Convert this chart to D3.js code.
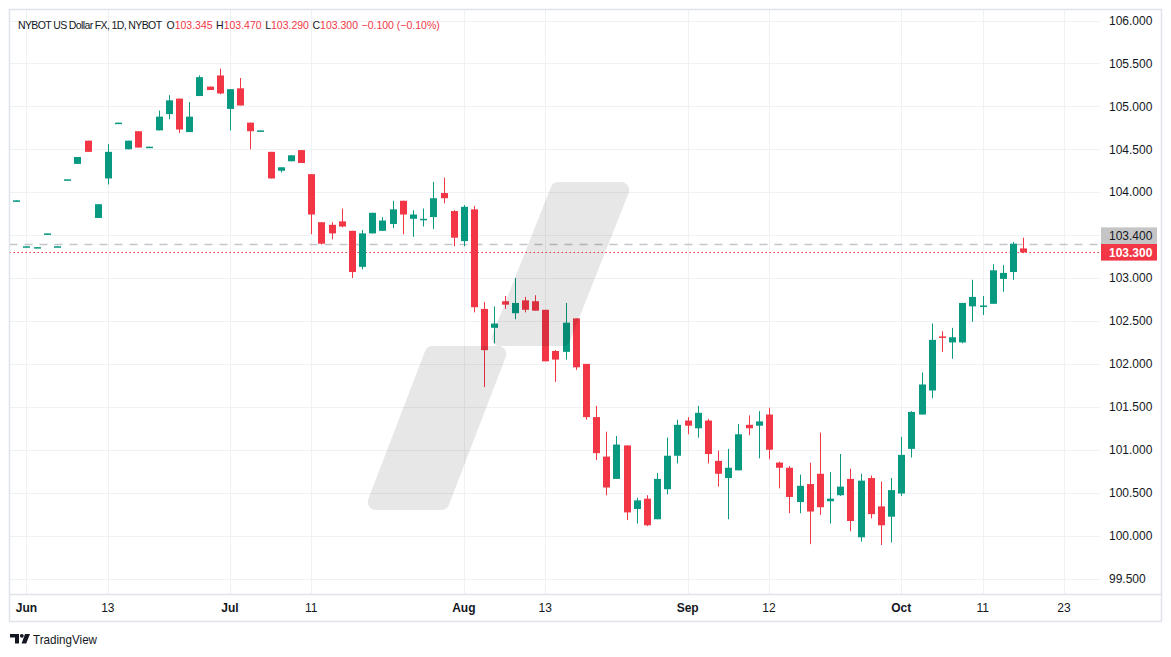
<!DOCTYPE html>
<html>
<head>
<meta charset="utf-8">
<script src="https://cdn.jsdelivr.net/npm/d3@7"></script>
<style>
  body { margin: 0; background: #fff; }
  svg { display: block; }
  text { font-family: "Liberation Sans", Arial, sans-serif; }
</style>
</head>
<body>
<svg width="1171" height="657"></svg>
<script>
// daily bars, May 31 .. Oct 17 (every weekday)
const opens = [103.895,103.365,103.355,103.515,103.365,104.145,104.33,104.60,103.70,104.16,
  104.805,104.50,104.71,104.525,104.72,104.91,105.09,104.70,105.12,105.23,
  105.36,104.97,105.21,104.81,104.715,104.47,104.25,104.36,104.49,104.21,
  103.65,103.62,103.66,103.55,103.13,103.52,103.55,103.63,103.90,103.69,
  103.68,103.71,103.99,103.78,103.43,103.80,102.64,102.42,102.73,102.59,
  102.74,102.73,102.63,102.15,102.14,102.53,102.00,101.38,100.92,100.66,
  101.05,100.31,100.43,100.19,100.54,100.93,101.34,101.25,101.34,100.87,
  100.67,100.76,101.29,101.28,101.41,100.85,100.79,100.39,100.60,100.72,
  100.40,100.47,100.66,99.98,100.67,100.34,100.22,100.49,101.01,101.41,
  101.69,102.32,102.25,102.25,102.67,102.67,102.70,102.99,103.07,103.345];
const highs = [103.905,103.37,103.36,103.52,103.37,104.15,104.41,104.60,103.86,104.56,
  104.81,104.60,104.71,104.53,104.95,105.13,105.09,105.05,105.36,105.23,
  105.44,105.20,105.33,104.81,104.72,104.47,104.29,104.43,104.49,104.21,
  103.65,103.65,103.81,103.55,103.56,103.76,103.71,103.90,103.90,103.79,
  103.81,104.12,104.17,103.79,103.85,103.84,102.72,102.67,102.79,103.00,
  102.78,102.80,102.63,102.16,102.71,102.53,102.00,101.51,101.21,101.16,
  101.05,100.44,100.47,100.73,101.14,101.35,101.38,101.51,101.36,100.99,
  101.01,101.30,101.40,101.45,101.49,100.86,100.81,100.71,100.85,101.20,
  100.74,100.95,100.78,100.72,100.70,100.63,100.67,101.15,101.45,101.90,
  102.47,102.38,102.42,102.71,102.98,102.79,103.16,103.15,103.42,103.47];
const lows = [103.895,103.365,103.355,103.515,103.365,104.145,104.33,104.47,103.70,104.09,
  104.805,104.50,104.52,104.525,104.72,104.85,104.69,104.70,105.12,105.19,
  105.14,104.72,105.01,104.50,104.715,104.16,104.23,104.36,104.34,103.51,
  103.39,103.45,103.59,103.00,103.10,103.52,103.55,103.58,103.51,103.48,
  103.60,103.57,103.87,103.37,103.37,102.60,101.73,102.24,102.64,102.52,
  102.60,102.62,102.03,101.79,102.05,101.93,101.35,100.88,100.47,100.66,
  100.18,100.14,100.11,100.19,100.48,100.84,101.18,101.14,100.84,100.57,
  100.19,100.76,101.17,100.90,100.89,100.55,100.26,100.26,99.90,100.24,
  100.14,100.46,100.05,99.93,100.20,99.89,99.92,100.46,100.91,101.41,
  101.60,102.14,102.06,102.24,102.49,102.57,102.70,102.84,102.98,103.29];
const closes = [103.905,103.37,103.36,103.52,103.37,104.15,104.41,104.47,103.86,104.47,
  104.81,104.60,104.52,104.53,104.88,105.07,104.73,104.88,105.34,105.19,
  105.15,105.20,105.01,104.71,104.72,104.16,104.29,104.43,104.34,103.74,
  103.40,103.52,103.60,103.07,103.52,103.76,103.67,103.80,103.74,103.74,
  103.69,103.93,103.93,103.47,103.83,102.66,102.16,102.47,102.69,102.71,
  102.63,102.62,102.03,102.05,102.48,101.96,101.38,100.96,100.56,101.06,
  100.27,100.41,100.12,100.66,100.93,101.29,101.28,101.43,100.95,100.72,
  100.79,101.18,101.25,101.33,101.00,100.79,100.45,100.58,100.28,100.33,
  100.43,100.57,100.17,100.64,100.25,100.12,100.53,100.94,101.44,101.76,
  102.28,102.31,102.31,102.71,102.78,102.68,103.09,103.06,103.40,103.30];

// time axis: bar index -> label (months are bold)
const timeTicks = [
  {i: 1, label: "Jun", month: true}, {i: 9, label: "13"},
  {i: 21, label: "Jul", month: true}, {i: 29, label: "11"},
  {i: 44, label: "Aug", month: true}, {i: 52, label: "13"},
  {i: 66, label: "Sep", month: true}, {i: 74, label: "12"},
  {i: 87, label: "Oct", month: true}, {i: 95, label: "11"},
  {i: 103, label: "23"}
];
const priceTicks = [99.5,100,100.5,101,101.5,102,102.5,103,103.5,104,104.5,105,105.5,106];
const prevClose = 103.400;
const lastClose = 103.300;

const header = [
  {t: "NYBOT US Dollar FX, 1D, NYBOT", c: "#131722", ls: -0.62},
  {t: "O", c: "#131722", dx: 5}, {t: "103.345", c: "#F23645"},
  {t: "H", c: "#131722", dx: 3.5}, {t: "103.470", c: "#F23645"},
  {t: "L", c: "#131722", dx: 3.5}, {t: "103.290", c: "#F23645"},
  {t: "C", c: "#131722", dx: 3.5}, {t: "103.300", c: "#F23645"},
  {t: "\u22120.100 (\u22120.10%)", c: "#F23645", dx: 3.5}
];

const up = "#089981", down = "#F23645", grid = "#f0f1f4", frame = "#e0e3eb";

var svg = d3.select("svg");

var paneL = 9.5, paneR = 1100, paneT = 9.5, paneB = 594.5, axisB = 621.5, frameR = 1161.5;

var x = d3.scaleLinear().domain([0, 99]).range([16.3, 1023.3]);
var y = d3.scaleLinear().domain([99.5, 106]).range([578.5, 20.5]);

// grid
svg.append("g")
  .selectAll("line")
  .data(priceTicks)
  .enter()
  .append("line")
    .attr("x1", paneL).attr("x2", paneR)
    .attr("y1", d => Math.round(y(d)) + 0.5)
    .attr("y2", d => Math.round(y(d)) + 0.5)
    .attr("stroke", grid);

svg.append("g")
  .selectAll("line")
  .data(timeTicks)
  .enter()
  .append("line")
    .attr("x1", d => Math.round(x(d.i)) + 0.5)
    .attr("x2", d => Math.round(x(d.i)) + 0.5)
    .attr("y1", paneT).attr("y2", paneB)
    .attr("stroke", grid);

// previous close (dashed) and last price (dotted)
svg.append("line")
  .attr("x1", paneL).attr("x2", paneR)
  .attr("y1", Math.round(y(prevClose)) + 0.5).attr("y2", Math.round(y(prevClose)) + 0.5)
  .attr("stroke", "#c3c5cb").attr("stroke-width", 1.5)
  .attr("stroke-dasharray", "8,7");

svg.append("line")
  .attr("x1", paneL).attr("x2", paneR)
  .attr("y1", Math.round(y(lastClose)) + 0.5).attr("y2", Math.round(y(lastClose)) + 0.5)
  .attr("stroke", down).attr("stroke-width", 1.2)
  .attr("stroke-dasharray", "1.5,2.5");

// candles
var bars = d3.range(opens.length).map(i => ({
  i: i, o: opens[i], h: highs[i], l: lows[i], c: closes[i]
}));

var candle = svg.append("g")
  .selectAll("g")
  .data(bars)
  .enter()
  .append("g")
  .attr("fill", d => d.c >= d.o ? up : down)
  .attr("stroke", d => d.c >= d.o ? up : down);

candle.append("line")
  .attr("x1", d => Math.round(x(d.i)) + 0.5)
  .attr("x2", d => Math.round(x(d.i)) + 0.5)
  .attr("y1", d => y(d.h))
  .attr("y2", d => y(d.l))
  .attr("stroke-width", 1);

candle.append("rect")
  .attr("x", d => Math.round(x(d.i)) - 3)
  .attr("width", 7)
  .attr("y", d => y(Math.max(d.o, d.c)))
  .attr("height", d => Math.max(1.5, y(Math.min(d.o, d.c)) - y(Math.max(d.o, d.c))))
  .attr("stroke", "none");

// watermark, drawn over the bars
var wm = svg.append("g").attr("opacity", 0.09);
[
  [[558.4,190],[621.2,190],[562.6,338],[499.8,338]],
  [[432.5,354],[498.3,354],[441.5,502],[375.7,502]]
].forEach(p => {
  wm.append("path")
    .attr("d", d3.line()(p) + "Z")
    .attr("fill", "#000").attr("stroke", "#000")
    .attr("stroke-width", 16).attr("stroke-linejoin", "round");
});

// frame
svg.append("rect")
  .attr("x", paneL).attr("y", paneT)
  .attr("width", frameR - paneL).attr("height", axisB - paneT)
  .attr("fill", "none").attr("stroke", frame).attr("stroke-width", 1.5);
svg.append("line")
  .attr("x1", paneL).attr("x2", frameR)
  .attr("y1", paneB).attr("y2", paneB)
  .attr("stroke", frame).attr("stroke-width", 1.5);

// price axis labels
svg.append("g")
  .selectAll("text")
  .data(priceTicks.filter(v => Math.abs(v - (prevClose + lastClose) / 2) > 0.2))
  .enter()
  .append("text")
    .attr("x", 1109)
    .attr("y", d => y(d) + 4.3)
    .attr("font-size", 12)
    .attr("fill", "#131722")
    .text(d => d.toFixed(3));

var yl = y(lastClose);
svg.append("rect")
  .attr("x", 1101).attr("y", yl - 8.3).attr("width", 56).attr("height", 16.6)
  .attr("fill", down);
svg.append("text")
  .attr("x", 1109).attr("y", yl + 4.3)
  .attr("font-size", 12).attr("font-weight", "bold").attr("fill", "#fff")
  .text(lastClose.toFixed(3));

svg.append("rect")
  .attr("x", 1101).attr("y", yl - 8.3 - 16.6).attr("width", 56).attr("height", 16.6)
  .attr("fill", "#c5c5c5");
svg.append("text")
  .attr("x", 1109).attr("y", yl - 8.3 - 4)
  .attr("font-size", 12).attr("fill", "#131722")
  .text(prevClose.toFixed(3));

// time axis labels
svg.append("g")
  .selectAll("text")
  .data(timeTicks)
  .enter()
  .append("text")
    .attr("x", d => x(d.i))
    .attr("y", 612)
    .attr("text-anchor", "middle")
    .attr("font-size", 12)
    .attr("font-weight", d => d.month ? "bold" : "normal")
    .attr("fill", "#131722")
    .text(d => d.label);

// legend line
var ht = svg.append("text")
  .attr("x", 18).attr("y", 29.3)
  .attr("font-family", "Roboto, sans-serif")
  .attr("font-size", 10.5);
header.forEach(h => {
  ht.append("tspan")
    .attr("dx", h.dx || 0)
    .attr("letter-spacing", h.ls || 0)
    .attr("fill", h.c)
    .text(h.t);
});

// TradingView mark
var logo = svg.append("g").attr("fill", "#131722");
logo.append("path").attr("d", "M10,634 H19 V643.5 H15 V637.5 H10 Z");
logo.append("circle").attr("cx", 21.8).attr("cy", 635.8).attr("r", 1.9);
logo.append("path").attr("d", "M25,634 H30 L26.2,643.5 H21.6 Z");
svg.append("text")
  .attr("x", 33).attr("y", 644.3)
  .attr("font-family", "Roboto, sans-serif")
  .attr("font-size", 13.5)
  .attr("textLength", 64).attr("lengthAdjust", "spacingAndGlyphs")
  .attr("fill", "#131722")
  .text("TradingView");
</script>
</body>
</html>
